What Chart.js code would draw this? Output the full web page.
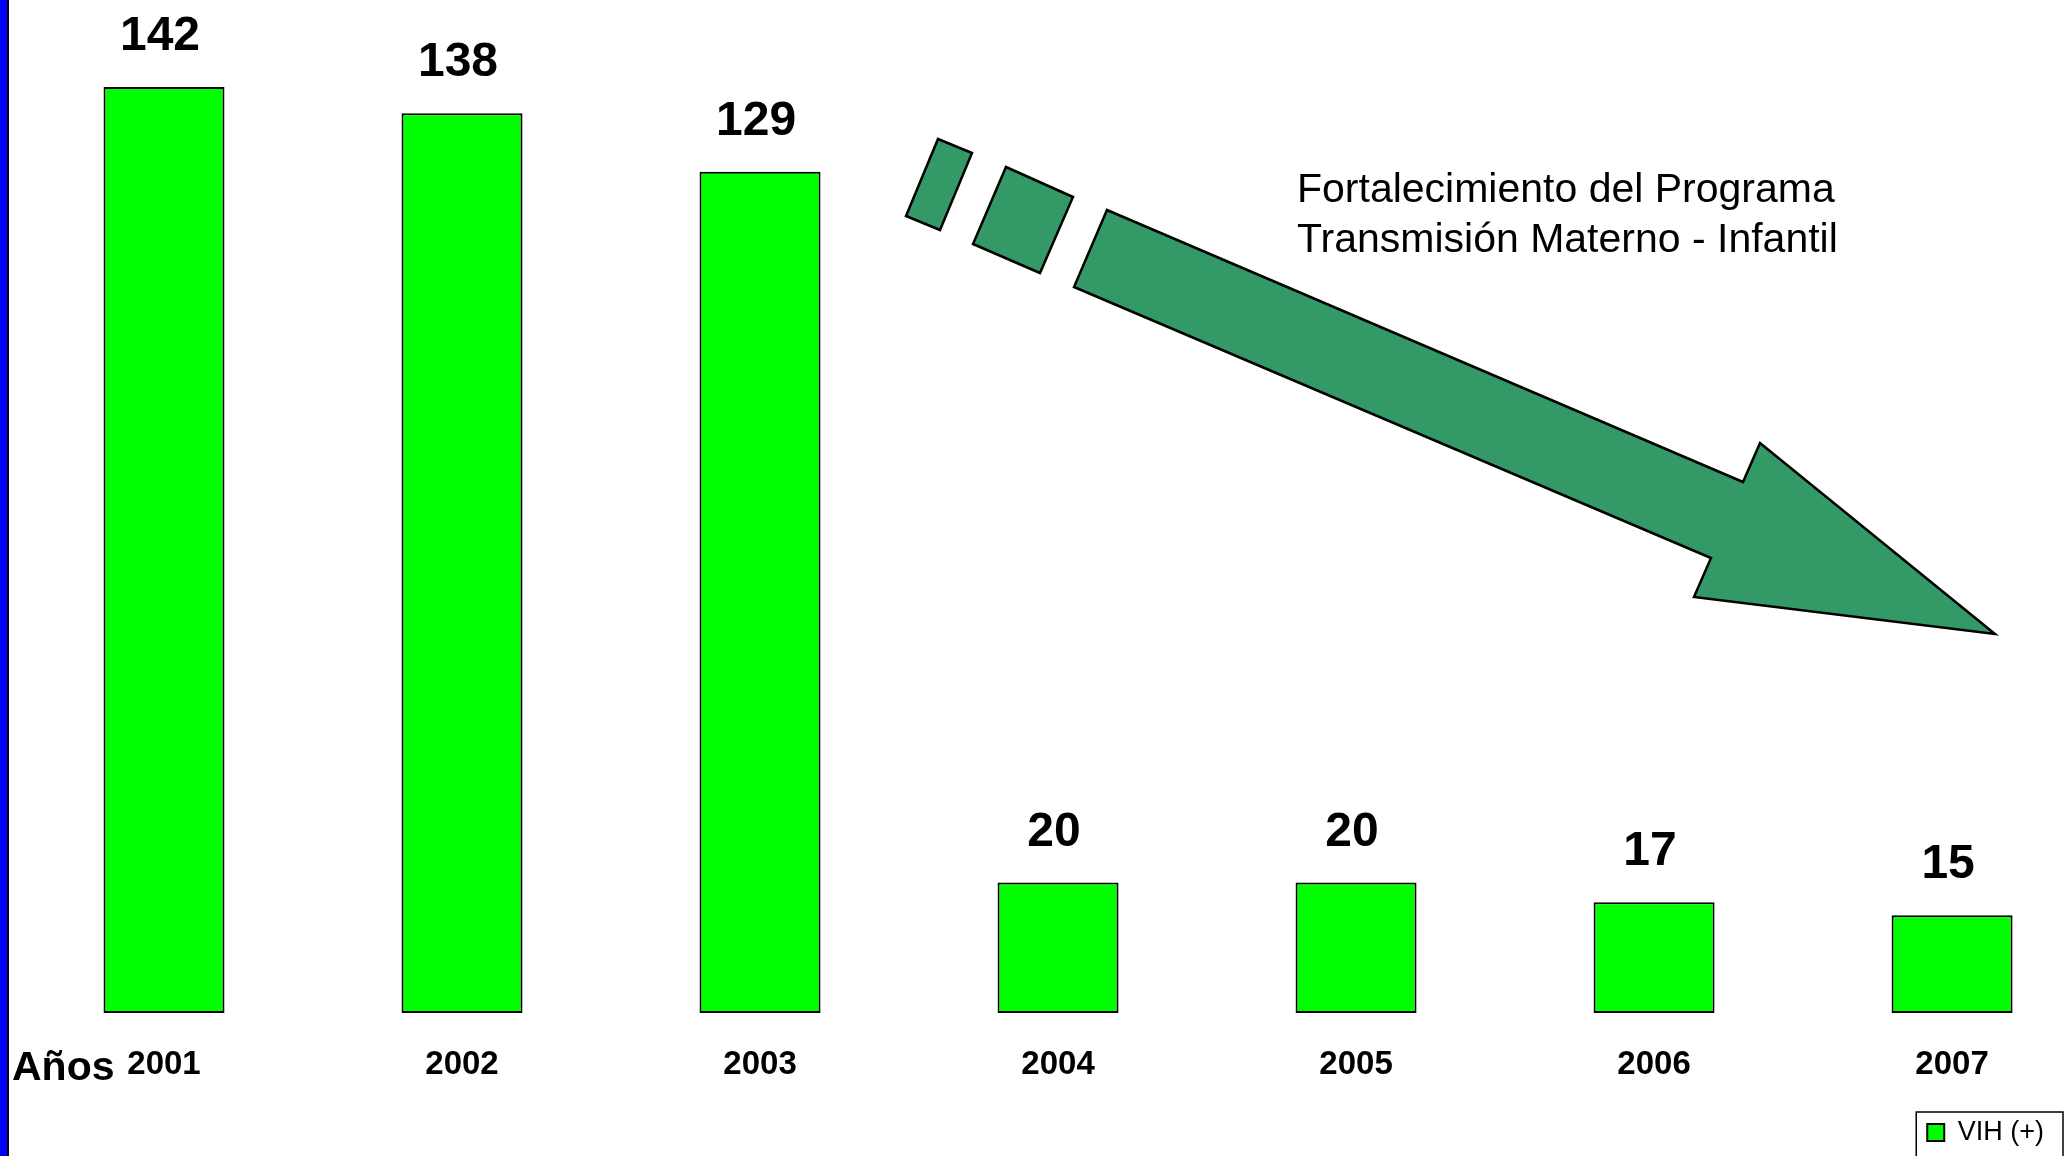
<!DOCTYPE html>
<html>
<head>
<meta charset="utf-8">
<script src="https://cdn.jsdelivr.net/npm/chart.js@4.4.0/dist/chart.umd.min.js"></script>
<style>
  html, body { margin: 0; padding: 0; background: #fff; overflow: hidden; }
  canvas { display: block; }
</style>
</head>
<body>
<canvas id="chart" width="2069" height="1156"></canvas>
<script>
// data
const years = ['2001', '2002', '2003', '2004', '2005', '2006', '2007'];
const vihValues = [142, 138, 129, 20, 20, 17, 15];
const seriesLabel = 'VIH (+)';
const axisName = 'Años';
const noteLines = ['Fortalecimiento del Programa', 'Transmisión Materno - Infantil'];

const FONT = '"Liberation Sans", Arial, sans-serif';
const X_MIN = -0.5, X_MAX = 6.342;

// decorative arrow (slide drawing, pixel coords)
const arrowPieces = [
  [[938, 139], [972, 153], [940, 230], [906, 216]],
  [[1006, 167], [1073, 197], [1040, 273], [973, 244]],
  [[1107, 210], [1743, 482], [1760, 443], [1995, 634], [1694, 597], [1711, 558], [1074, 287]]
];

const slideDecor = {
  id: 'slideDecor',
  beforeDraw(chart) {
    const ctx = chart.ctx;
    ctx.save();
    ctx.fillStyle = '#fff';
    ctx.fillRect(0, 0, chart.width, chart.height);
    // blue strip at the left edge
    ctx.fillStyle = '#0000ff';
    ctx.fillRect(0, 0, 7, chart.height);
    ctx.fillStyle = '#000';
    ctx.fillRect(7, 0, 2, chart.height);
    ctx.restore();
  },
  afterDraw(chart) {
    const ctx = chart.ctx;
    ctx.save();
    // arrow
    ctx.fillStyle = '#339966';
    ctx.strokeStyle = '#000';
    ctx.lineWidth = 2.5;
    ctx.lineJoin = 'miter';
    arrowPieces.forEach(pts => {
      ctx.beginPath();
      pts.forEach((p, i) => i ? ctx.lineTo(p[0], p[1]) : ctx.moveTo(p[0], p[1]));
      ctx.closePath();
      ctx.fill();
      ctx.stroke();
    });
    // note text
    ctx.fillStyle = '#000';
    ctx.font = '41px ' + FONT;
    ctx.textAlign = 'left';
    ctx.textBaseline = 'alphabetic';
    ctx.fillText(noteLines[0], 1297, 202);
    ctx.fillText(noteLines[1], 1297, 252);
    // axis name
    ctx.font = 'bold 41px ' + FONT;
    ctx.fillText(axisName, 12, 1080);
    // border round the legend
    const hb = chart.legend.legendHitBoxes[0];
    if (hb) {
      ctx.strokeStyle = '#000';
      ctx.lineWidth = 1.5;
      ctx.strokeRect(hb.left - 11, hb.top - 7, hb.width + 30, 80);
    }
    ctx.restore();
  }
};

const valueLabels = {
  id: 'valueLabels',
  afterDatasetsDraw(chart) {
    const ctx = chart.ctx;
    const meta = chart.getDatasetMeta(0);
    ctx.save();
    ctx.fillStyle = '#000';
    ctx.font = 'bold 48px ' + FONT;
    ctx.textAlign = 'center';
    ctx.textBaseline = 'alphabetic';
    meta.data.forEach((bar, i) => {
      ctx.fillText(String(vihValues[i]), bar.x - 4, bar.y - 37);
    });
    ctx.restore();
  }
};

new Chart(document.getElementById('chart'), {
  type: 'bar',
  data: {
    datasets: [{
      label: seriesLabel,
      data: vihValues.map((v, i) => ({ x: i, y: v })),
      backgroundColor: '#00ff00',
      borderColor: '#000',
      borderWidth: 2,
      borderSkipped: false,
      barPercentage: 0.406,
      categoryPercentage: 1
    }]
  },
  options: {
    responsive: false,
    animation: false,
    layout: { padding: { left: 15, right: 15, top: 0, bottom: 0 } },
    plugins: {
      legend: {
        position: 'bottom',
        align: 'end',
        labels: {
          color: '#000',
          font: { family: FONT, size: 27 },
          boxWidth: 17,
          boxHeight: 17,
          padding: 10
        }
      },
      tooltip: { enabled: false }
    },
    scales: {
      x: {
        type: 'linear',
        bounds: 'data',
        offset: false,
        min: X_MIN,
        max: X_MAX,
        grid: { display: false, drawTicks: false },
        border: { display: false },
        afterBuildTicks: (scale) => {
          scale.min = X_MIN;
          scale.max = X_MAX;
          scale.ticks = years.map((y, i) => ({ value: i }));
        },
        afterFit: (scale) => {
          scale.height = 96;
          scale.paddingLeft = 0;
          scale.paddingRight = 0;
        },
        ticks: {
          autoSkip: false,
          maxRotation: 0,
          padding: 32,
          color: '#000',
          font: { family: FONT, size: 33, weight: 'bold' },
          callback: (v) => years[v]
        }
      },
      y: {
        display: false,
        min: 0,
        max: 155.35
      }
    }
  },
  plugins: [slideDecor, valueLabels]
});
</script>
</body>
</html>
